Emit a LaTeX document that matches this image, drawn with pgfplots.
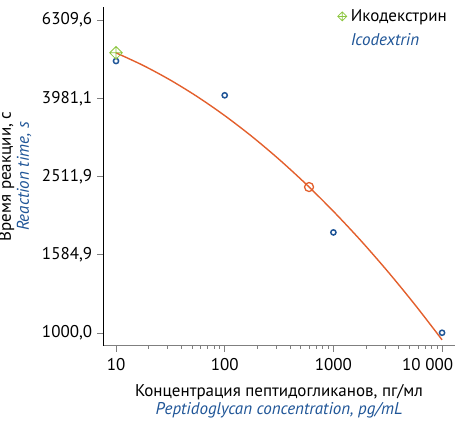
\documentclass[border=0pt]{standalone}
\usepackage{fontspec}
\setmainfont{PT Sans}
\usepackage{pgfplots}
\pgfplotsset{compat=1.18}
\definecolor{cblue}{HTML}{1F5597}
\definecolor{corange}{HTML}{E35F2C}
\definecolor{cgreen}{HTML}{8CC63F}
\definecolor{axgray}{HTML}{7F7F7F}
\pgfdeclareplotmark{diamondplus}{%
  \pgfpathmoveto{\pgfqpoint{0pt}{\pgfplotmarksize}}%
  \pgfpathlineto{\pgfqpoint{\pgfplotmarksize}{0pt}}%
  \pgfpathlineto{\pgfqpoint{0pt}{-\pgfplotmarksize}}%
  \pgfpathlineto{\pgfqpoint{-\pgfplotmarksize}{0pt}}%
  \pgfpathclose
  \pgfpathmoveto{\pgfqpoint{0pt}{\pgfplotmarksize}}%
  \pgfpathlineto{\pgfqpoint{0pt}{-\pgfplotmarksize}}%
  \pgfpathmoveto{\pgfqpoint{\pgfplotmarksize}{0pt}}%
  \pgfpathlineto{\pgfqpoint{-\pgfplotmarksize}{0pt}}%
  \pgfusepathqstroke}
\begin{document}
\fontsize{17bp}{20bp}\selectfont
\begin{tikzpicture}
\begin{axis}[
  at={(0,0)}, anchor=south west,
  scale only axis, width=352bp, height=339bp,
  xmode=log, ymode=log,
  xmin=7.59, xmax=13150, ymin=926, ymax=6811,
  axis lines=left,
  axis line style={-},
  x axis line style={axgray, line width=1pt},
  y axis line style={black, line width=0.8pt},
  tick style={axgray, line width=0.8pt},
  tick align=outside,
  major tick length=6bp,
  minor tick num=0,
  xtick={10,100,1000,10000},
  xticklabels={10,100,1000,\makebox[22bp][r]{10 000}},
  ytick={1000,1584.893,2511.886,3981.072,6309.573},
  yticklabels={{1000,0},{1584,9},{2511,9},{3981,1},{6309,6}},
  x tick label style={font=\fontsize{17bp}{20bp}\selectfont, yshift=-1bp},
  y tick label style={font=\fontsize{17bp}{20bp}\selectfont, xshift=1bp},
  xlabel={Концентрация пептидогликанов, пг/мл\\\textcolor{cblue}{\itshape Peptidoglycan concentration, pg/mL}},
  xlabel style={align=center, font=\fontsize{17bp}{18bp}\selectfont, yshift=-2bp},
  ylabel={Время реакции, с\\\textcolor{cblue}{\itshape Reaction time, s}},
  ylabel style={align=center, font=\fontsize{17bp}{18bp}\selectfont, yshift=-1bp},
  legend style={draw=none, fill=none, at={(0.655,1.0)}, anchor=north west,
    font=\fontsize{17bp}{20bp}\selectfont, row sep=6bp, column sep=2bp, inner sep=0pt},
  legend image post style={mark size=4.5bp},
  legend cell align=left,
  clip=false,
]
\addplot[corange, line width=1.4pt, smooth, no markers, forget plot] coordinates {
(10,5200) (17.78,4828) (31.62,4429) (56.23,4014) (100,3594) (177.8,3179)
(316.2,2778) (562.3,2399) (1000,2046) (1778,1725) (3162,1436) (5623,1181) (10000,960)
};
\addplot[only marks, mark=o, mark size=2.6bp, cblue, line width=1.5pt, forget plot] coordinates {
(10,4955) (100,4050) (1000,1807) (10000,1001)
};
\addplot[only marks, mark=o, mark size=4.5bp, corange, line width=1.3pt, forget plot] coordinates {
(597,2360)
};
\addplot[only marks, mark=diamondplus, mark size=6.3bp, cgreen, line width=0.8pt] coordinates {
(10,5200)
};
\addlegendentry{Икодекстрин}
\addlegendimage{empty legend}
\addlegendentry{\textcolor{cblue}{\itshape Icodextrin}}
\end{axis}
\pgfresetboundingbox
\path (-103bp,-78bp) rectangle (352bp,346bp);
\end{tikzpicture}
\end{document}
